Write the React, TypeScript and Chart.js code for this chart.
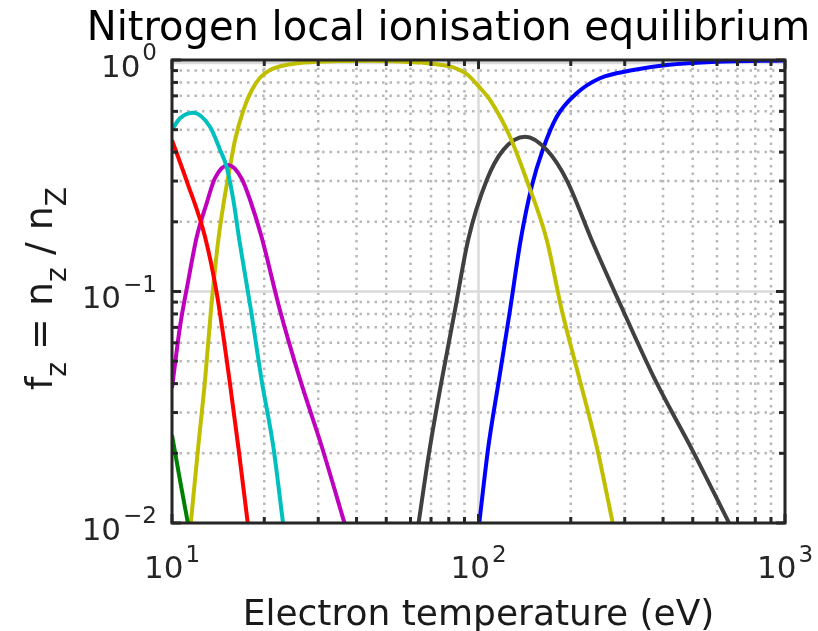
import React, { useEffect, useRef } from 'react';
import { Chart, registerables } from 'chart.js';

Chart.register(...registerables);

// ---------- text ----------
const TITLE = 'Nitrogen local ionisation equilibrium';
const X_TITLE = 'Electron temperature (eV)';
const Y_TITLE_PARTS: [string, boolean][] = [
  ['f', false], ['z', true], [' = n', false], ['z', true], [' / n', false], ['Z', true],
];

// ---------- ticks ----------
const TICK_BASE = '10';
const X_MAJOR = [10, 100, 1000];
const X_TICK_EXP = ['1', '2', '3'];
const X_MINOR = [20, 30, 40, 50, 60, 70, 80, 90, 200, 300, 400, 500, 600, 700, 800, 900];
const Y_MAJOR = [0.01, 0.1, 1];
const Y_TICK_EXP = ['\u22122', '\u22121', '0'];
const Y_MINOR = [0.02, 0.03, 0.04, 0.05, 0.06, 0.07, 0.08, 0.09, 0.2, 0.3, 0.4, 0.5, 0.6, 0.7, 0.8, 0.9];

// ---------- series (Te [eV], fraction) ----------
const N0: [number, number][] = [[10, 0.024], [10.6, 0.0155], [11.3, 0.0098]];
const N1: [number, number][] = [
  [10, 0.45], [11.17, 0.3], [12.82, 0.172], [14.0, 0.098], [15.4, 0.0415], [16.45, 0.0214], [17.7, 0.0098],
];
const N2: [number, number][] = [
  [10, 0.5], [10.62, 0.56], [11.74, 0.592], [13.3, 0.515], [14.35, 0.409], [15.07, 0.346],
  [15.85, 0.249], [16.58, 0.167], [18.1, 0.083], [19.6, 0.0415], [21.4, 0.0214], [23.07, 0.0098],
];
const N3: [number, number][] = [
  [10, 0.0383], [10.62, 0.0705], [11.28, 0.11], [12.04, 0.172], [12.98, 0.241], [13.8, 0.308],
  [15.27, 0.352], [16.87, 0.308], [17.97, 0.249], [19.6, 0.172], [22.5, 0.083], [26.2, 0.0415],
  [30.8, 0.0214], [36.7, 0.0098],
];
const N4: [number, number][] = [
  [11.5, 0.0098], [12.18, 0.0214], [12.82, 0.0415], [13.4, 0.083], [14.16, 0.167], [14.8, 0.249],
  [15.5, 0.352], [16.05, 0.45], [17.1, 0.608], [18.2, 0.74], [19.4, 0.84], [20.9, 0.905], [23, 0.945],
  [27, 0.975], [35, 0.99], [45, 0.993], [55.5, 0.985], [65, 0.975], [72, 0.96], [82.8, 0.93],
  [91.5, 0.87], [101, 0.76], [109, 0.672], [126.7, 0.466], [143.6, 0.303], [167, 0.167], [187, 0.083],
  [214, 0.0415], [243, 0.0214], [275, 0.0098],
];
const N5: [number, number][] = [
  [63.6, 0.0098], [69.5, 0.0214], [75.9, 0.0415], [83.8, 0.083], [92.5, 0.167], [106.4, 0.303],
  [120.5, 0.409], [142, 0.466], [167, 0.409], [194, 0.303], [234, 0.167], [296, 0.083], [377, 0.0415],
  [500, 0.0205], [662, 0.0098],
];
const N6: [number, number][] = [
  [100.4, 0.0098], [107.7, 0.0214], [116.6, 0.0415], [126.7, 0.083], [137.3, 0.167], [149.1, 0.284],
  [162, 0.409], [180, 0.569], [209, 0.718], [249, 0.834], [320, 0.905], [411, 0.951], [598, 0.983],
  [1000, 0.995],
];

const SERIES: { name: string; data: [number, number][]; color: string }[] = [
  { name: 'N0', data: N0, color: '#008000' },
  { name: 'N1+', data: N1, color: '#ff0000' },
  { name: 'N2+', data: N2, color: '#00bfbf' },
  { name: 'N3+', data: N3, color: '#bf00bf' },
  { name: 'N4+', data: N4, color: '#bfbf00' },
  { name: 'N5+', data: N5, color: '#404040' },
  { name: 'N6+', data: N6, color: '#0000ff' },
];

const W = 818;
const H = 631;
const AXIS_COLOR = '#262626';
const MAIN_FONT = '"DejaVu Sans", sans-serif';

function drawPow(ctx: CanvasRenderingContext2D, base: string, exp: string, x: number, y: number, align: 'center' | 'right', size: number) {
  const supSize = Math.round(size * 0.74);
  ctx.font = `${size}px ${MAIN_FONT}`;
  const wb = ctx.measureText(base).width;
  ctx.font = `${supSize}px ${MAIN_FONT}`;
  const we = ctx.measureText(exp).width;
  const gap = 2;
  const total = wb + gap + we;
  const start = align === 'center' ? x - total / 2 : x - total;
  ctx.textAlign = 'left';
  ctx.textBaseline = 'alphabetic';
  ctx.font = `${size}px ${MAIN_FONT}`;
  ctx.fillText(base, start, y);
  ctx.font = `${supSize}px ${MAIN_FONT}`;
  ctx.fillText(exp, start + wb + gap, y - size * 0.52);
}

const matlabAxes = {
  id: 'matlabAxes',
  beforeDatasetsDraw(chart: any) {
    const { ctx, chartArea: a, scales } = chart;
    const xs = scales.x;
    const ys = scales.y;
    ctx.save();
    // minor dotted grid
    ctx.strokeStyle = '#b8b8b8';
    ctx.lineWidth = 2.5;
    ctx.setLineDash([2.5, 5]);
    for (const v of X_MINOR) {
      const p = xs.getPixelForValue(v);
      ctx.beginPath(); ctx.moveTo(p, a.top); ctx.lineTo(p, a.bottom); ctx.stroke();
    }
    for (const v of Y_MINOR) {
      const p = ys.getPixelForValue(v);
      ctx.beginPath(); ctx.moveTo(a.left, p); ctx.lineTo(a.right, p); ctx.stroke();
    }
    // major solid grid
    ctx.setLineDash([]);
    ctx.strokeStyle = '#dadada';
    ctx.lineWidth = 2.5;
    for (const v of X_MAJOR) {
      const p = xs.getPixelForValue(v);
      ctx.beginPath(); ctx.moveTo(p, a.top); ctx.lineTo(p, a.bottom); ctx.stroke();
    }
    for (const v of Y_MAJOR) {
      const p = ys.getPixelForValue(v) + (v === 1 ? 3 : 0);
      ctx.beginPath(); ctx.moveTo(a.left, p); ctx.lineTo(a.right, p); ctx.stroke();
    }
    ctx.restore();
  },
  afterDatasetsDraw(chart: any) {
    const { ctx, chartArea: a, scales } = chart;
    const xs = scales.x;
    const ys = scales.y;
    ctx.save();
    ctx.strokeStyle = AXIS_COLOR;
    ctx.lineWidth = 3;
    ctx.setLineDash([]);
    // ticks (inward, all four sides)
    const MAJ = 9;
    const MIN = 6;
    const xt = (v: number, len: number) => {
      const p = xs.getPixelForValue(v);
      ctx.beginPath(); ctx.moveTo(p, a.bottom); ctx.lineTo(p, a.bottom - len); ctx.stroke();
      ctx.beginPath(); ctx.moveTo(p, a.top); ctx.lineTo(p, a.top + len); ctx.stroke();
    };
    const yt = (v: number, len: number) => {
      const p = ys.getPixelForValue(v);
      ctx.beginPath(); ctx.moveTo(a.left, p); ctx.lineTo(a.left + len, p); ctx.stroke();
      ctx.beginPath(); ctx.moveTo(a.right, p); ctx.lineTo(a.right - len, p); ctx.stroke();
    };
    X_MINOR.forEach((v) => xt(v, MIN));
    X_MAJOR.forEach((v) => xt(v, MAJ));
    Y_MINOR.forEach((v) => yt(v, MIN));
    Y_MAJOR.forEach((v) => yt(v, MAJ));
    // frame
    ctx.strokeRect(a.left, a.top, a.right - a.left, a.bottom - a.top);

    // tick labels
    ctx.fillStyle = AXIS_COLOR;
    X_MAJOR.forEach((v, i) => {
      drawPow(ctx, TICK_BASE, X_TICK_EXP[i], xs.getPixelForValue(v), 578, 'center', 31);
    });
    Y_MAJOR.forEach((v, i) => {
      drawPow(ctx, TICK_BASE, Y_TICK_EXP[i], a.left - 15, ys.getPixelForValue(v) + 16.5, 'right', 31);
    });

    // titles
    ctx.fillStyle = '#000000';
    ctx.textAlign = 'center';
    ctx.textBaseline = 'alphabetic';
    ctx.font = `40px ${MAIN_FONT}`;
    ctx.fillText(TITLE, 448.5, 40);
    ctx.fillStyle = '#1a1a1a';
    ctx.font = `36px ${MAIN_FONT}`;
    ctx.fillText(X_TITLE, (a.left + a.right) / 2, 625);

    // y label with subscripts
    const mainSize = 38;
    const subSize = 28;
    let total = 0;
    for (const [t, sub] of Y_TITLE_PARTS) {
      ctx.font = `${sub ? subSize : mainSize}px ${MAIN_FONT}`;
      total += ctx.measureText(t).width;
    }
    ctx.translate(52, 288.5);
    ctx.rotate(-Math.PI / 2);
    ctx.textAlign = 'left';
    let cx = -total / 2;
    for (const [t, sub] of Y_TITLE_PARTS) {
      ctx.font = `${sub ? subSize : mainSize}px ${MAIN_FONT}`;
      ctx.fillText(t, cx, sub ? 14 : 0);
      cx += ctx.measureText(t).width;
    }
    ctx.restore();
  },
};

export default function App() {
  const ref = useRef<HTMLCanvasElement | null>(null);
  useEffect(() => {
    if (!ref.current) return;
    const chart = new Chart(ref.current, {
      type: 'line',
      data: {
        datasets: SERIES.map((s) => ({
          label: s.name,
          data: s.data.map(([x, y]) => ({ x, y })),
          borderColor: s.color,
          backgroundColor: s.color,
          borderWidth: 4,
          pointRadius: 0,
          fill: false,
          cubicInterpolationMode: 'monotone' as const,
        })),
      },
      options: {
        animation: false,
        responsive: false,
        maintainAspectRatio: false,
        layout: { padding: { left: 172, right: W - 785, top: 60, bottom: H - 523 } },
        scales: {
          x: { type: 'logarithmic', min: 10, max: 1000, display: false },
          y: { type: 'logarithmic', min: 0.01, max: 1, display: false },
        },
        plugins: {
          legend: { display: false },
          tooltip: { enabled: false },
          title: { display: false },
        },
      },
      plugins: [matlabAxes],
    });
    return () => chart.destroy();
  }, []);
  return (
    <div style={{ position: 'fixed', left: 0, top: 0, width: W, height: H, background: '#fff' }}>
      <canvas ref={ref} width={W} height={H} style={{ display: 'block' }} />
    </div>
  );
}
